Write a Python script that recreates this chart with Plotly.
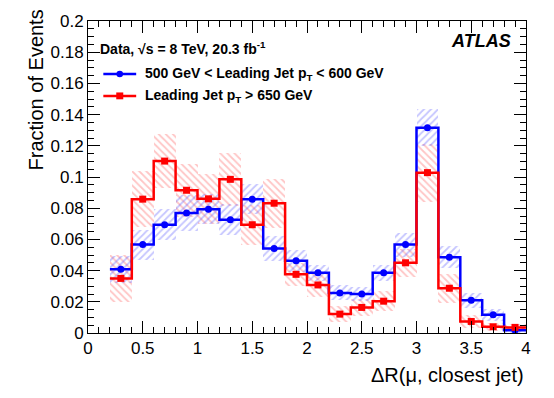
import plotly.graph_objs as go
import numpy as np

# binning of Delta R(mu, closest jet)
bin_edges = np.round(np.arange(0.2, 4.01, 0.2), 2)
bin_centers = (bin_edges[:-1] + bin_edges[1:]) / 2

# 500 GeV < leading jet pT < 600 GeV
blue_vals = [0.0408, 0.0567, 0.0694, 0.0769, 0.0794, 0.0726, 0.0858, 0.0541, 0.0463, 0.0386,
             0.0257, 0.0250, 0.0386, 0.0567, 0.1316, 0.0486, 0.0210, 0.0117, 0.0018]
blue_err = [0.0086, 0.0096, 0.0100, 0.0118, 0.0095, 0.0100, 0.0098, 0.0080, 0.0070, 0.0053,
            0.0048, 0.0042, 0.0053, 0.0077, 0.0117, 0.0069, 0.0048, 0.0040, 0.0020]

# leading jet pT > 650 GeV
red_vals = [0.0350, 0.0858, 0.1102, 0.0915, 0.0860, 0.0985, 0.0694, 0.0832, 0.0376, 0.0308,
            0.0121, 0.0164, 0.0204, 0.0450, 0.1028, 0.0287, 0.0074, 0.0040, 0.0036]
red_err = [0.0150, 0.0180, 0.0175, 0.0170, 0.0160, 0.0170, 0.0127, 0.0157, 0.0075, 0.0080,
           0.0053, 0.0053, 0.0064, 0.0090, 0.0186, 0.0093, 0.0042, 0.0027, 0.0020]

FONT = "Liberation Sans, Arial, sans-serif"
BLUE = '#0000ff'
RED = '#ff0000'

fig = go.Figure()

def add_band(vals, errs, fg, shape):
    vals = np.array(vals)
    errs = np.array(errs)
    fig.add_trace(go.Bar(
        x=bin_centers, y=2 * errs, base=vals - errs, width=0.2,
        marker=dict(color='rgba(0,0,0,0)', line=dict(width=0),
                    pattern=dict(shape=shape, fgcolor=fg, bgcolor='rgba(0,0,0,0)',
                                 fillmode='overlay', size=5, solidity=0.35)),
        showlegend=False, hoverinfo='skip'))

add_band(red_vals, red_err, 'rgba(255,110,110,0.8)', '\\')
add_band(blue_vals, blue_err, 'rgba(100,100,255,0.75)', '/')

def add_hist(vals, color, symbol, size):
    fig.add_trace(go.Scatter(
        x=bin_edges, y=list(vals) + [vals[-1]], mode='lines', line_shape='hv',
        line=dict(color=color, width=2.5), showlegend=False, hoverinfo='skip'))
    fig.add_trace(go.Scatter(
        x=bin_centers, y=vals, mode='markers',
        marker=dict(color=color, symbol=symbol, size=size), showlegend=False))

add_hist(blue_vals, BLUE, 'circle', 7)
add_hist(red_vals, RED, 'square', 7)

# legend block
fig.add_annotation(x=0.022, y=0.915, xref='paper', yref='paper', xanchor='left', yanchor='middle',
                   text='<b>Data, \u221as = 8 TeV, 20.3 fb<sup>-1</sup></b>', showarrow=False,
                   font=dict(family=FONT, size=14, color='black'))
legend_rows = [(0.83, BLUE, 'circle', '<b>500 GeV &lt; Leading Jet p<sub>T</sub> &lt; 600 GeV</b>'),
               (0.76, RED, 'rect', '<b>Leading Jet p<sub>T</sub> &gt; 650 GeV</b>')]
for yy, col, sym, txt in legend_rows:
    fig.add_shape(type='line', xref='paper', yref='paper', x0=0.035, x1=0.11, y0=yy, y1=yy,
                  line=dict(color=col, width=2.5))
    if sym == 'circle':
        fig.add_shape(type='circle', xref='paper', yref='paper', x0=0.0725 - 0.0075, x1=0.0725 + 0.0075,
                      y0=yy - 0.0105, y1=yy + 0.0105, fillcolor=col, line=dict(width=0))
    else:
        fig.add_shape(type='rect', xref='paper', yref='paper', x0=0.0725 - 0.008, x1=0.0725 + 0.008,
                      y0=yy - 0.011, y1=yy + 0.011, fillcolor=col, line=dict(width=0))
    fig.add_annotation(x=0.125, y=yy, xref='paper', yref='paper', xanchor='left', yanchor='middle',
                       text=txt, showarrow=False, font=dict(family=FONT, size=14, color='black'))

fig.add_annotation(x=0.97, y=0.935, xref='paper', yref='paper', xanchor='right', yanchor='middle',
                   text='<b><i>ATLAS</i></b>', showarrow=False,
                   font=dict(family=FONT, size=18, color='black'))

# axis titles (ROOT style, aligned to the axis ends)
fig.add_annotation(x=0, y=1, xref='paper', yref='paper', xanchor='center', yanchor='top',
                   xshift=-53, yshift=13, textangle=-90, text='Fraction of Events', showarrow=False,
                   font=dict(family=FONT, size=20, color='black'))
fig.add_annotation(x=1, y=0, xref='paper', yref='paper', xanchor='right', yanchor='top',
                   yshift=-29, text='\u0394R(\u03bc, closest jet)', showarrow=False,
                   font=dict(family=FONT, size=20, color='black'))

axis_common = dict(showgrid=False, zeroline=False, showline=True, linecolor='black', linewidth=1,
                   mirror='allticks', ticks='inside', tickcolor='black', ticklen=12,
                   automargin=False, tickfont=dict(family=FONT, size=17, color='black'))
fig.update_layout(
    width=554, height=398, margin=dict(l=88, r=28, t=21, b=65),
    plot_bgcolor='white', paper_bgcolor='white', barmode='overlay', bargap=0,
    font=dict(family=FONT, size=17, color='black'),
    xaxis=dict(range=[0, 4], tickmode='linear', tick0=0, dtick=0.5,
               minor=dict(dtick=0.1, ticklen=6, ticks='inside', tickcolor='black'), **axis_common),
    yaxis=dict(range=[0, 0.2], tickmode='linear', tick0=0, dtick=0.02,
               minor=dict(dtick=0.005, ticklen=6, ticks='inside', tickcolor='black'), **axis_common),
)

# drop the default page margin so the figure sits at the window origin
fig.write_html("out.html", config={'displayModeBar': False},
               post_script="document.body.style.margin='0';")
